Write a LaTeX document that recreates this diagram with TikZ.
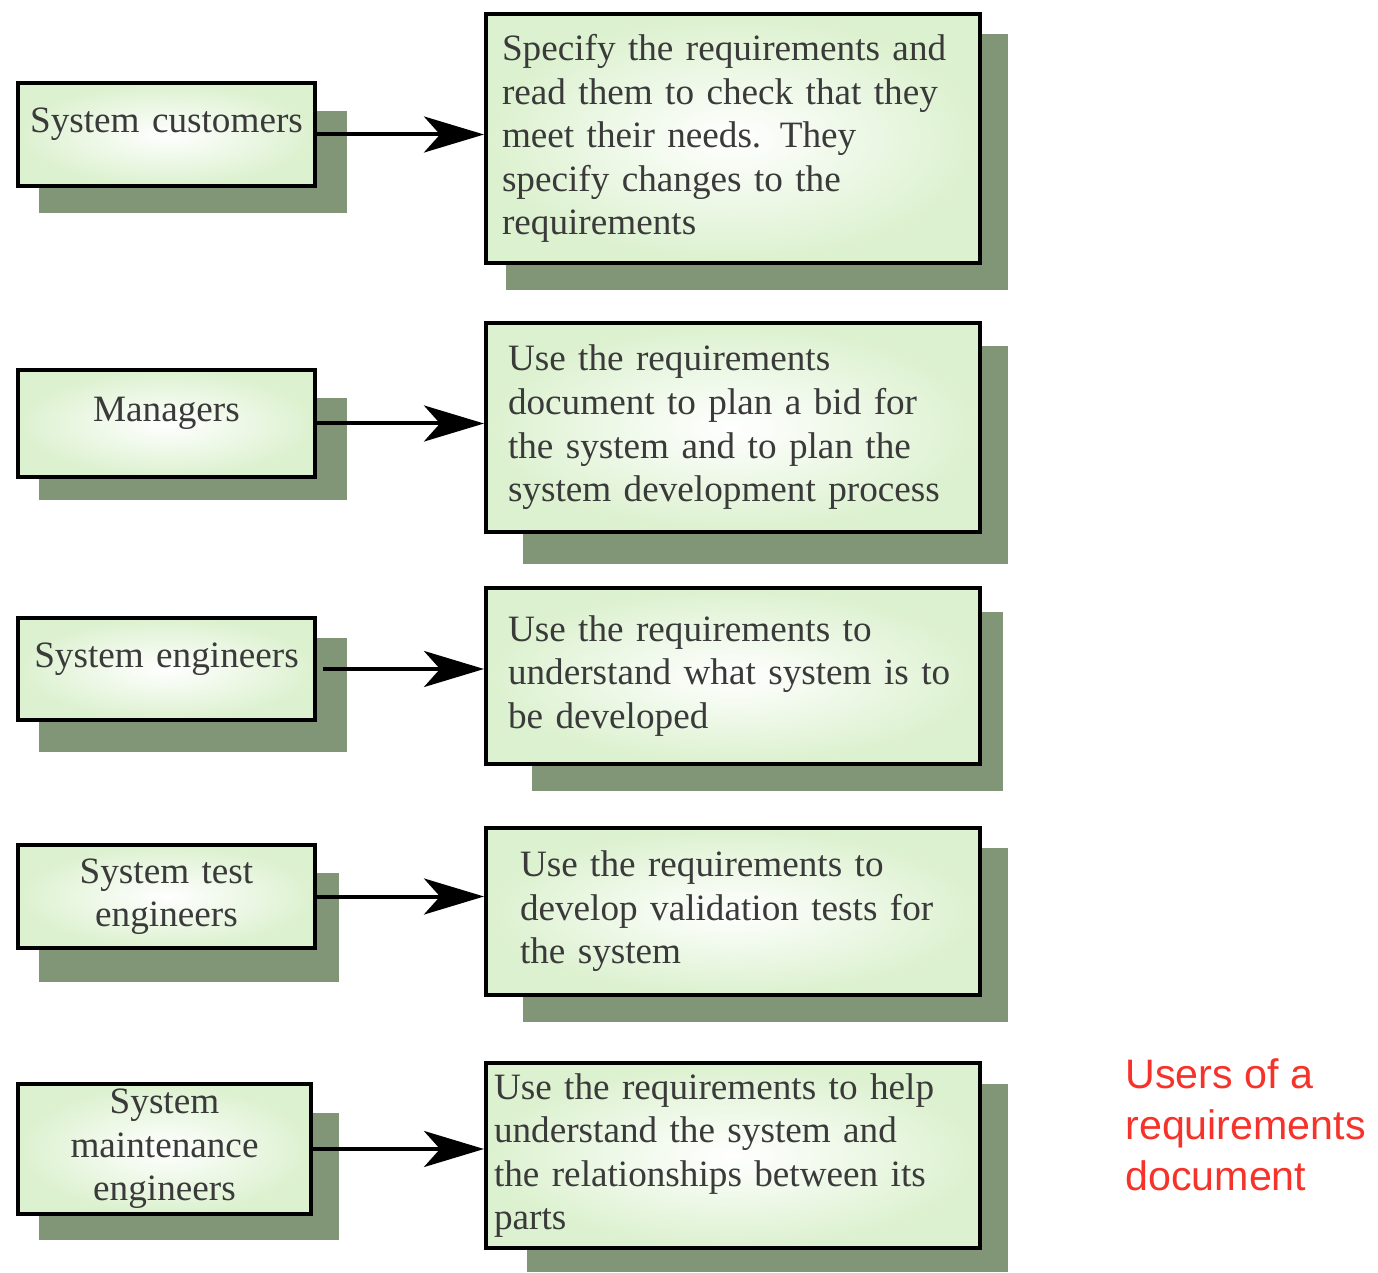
\documentclass[tikz,border=0pt]{standalone}
\usepackage{fontspec}
\setmainfont{Liberation Serif}
\newfontfamily\notefont{Liberation Sans}
\usetikzlibrary{arrows.meta}

\definecolor{boxgreen}{RGB}{220,241,207}
\definecolor{shadowgreen}{RGB}{129,150,118}
\definecolor{notered}{RGB}{245,51,42}
\definecolor{textgray}{RGB}{58,58,58}

\tikzset{
  usertext/.style={font=\fontsize{18.6}{21.8}\selectfont, text=textgray},
  userbox/.style={draw=black, line width=2pt, shading=radial, inner color=white,
    outer color=boxgreen, anchor=north west, usertext, align=center,
    inner sep=0pt, minimum width=148.5pt, text width=148.5pt},
  onelinebox/.style={userbox, text depth=14pt},
  taskbox/.style={userbox, align=left, minimum width=247pt},
  shadowbox/.style={fill=shadowgreen},
  usesarrow/.style={line width=2pt, -{Stealth[length=30pt,width=18pt,inset=8pt]}},
  notetext/.style={font=\notefont\fontsize{20.6}{25.5}\selectfont, text=notered,
    align=left, anchor=north west, inner sep=0pt},
}

\begin{document}
\begin{tikzpicture}[x=0.5pt,y=-0.5pt]
\useasboundingbox (0,0) rectangle (1378,1273);

% shadows
\fill[shadowbox] (39,111) rectangle (347,213);
\fill[shadowbox] (39,398) rectangle (347,500);
\fill[shadowbox] (39,638) rectangle (347,752);
\fill[shadowbox] (39,873) rectangle (339,982);
\fill[shadowbox] (39,1113) rectangle (339,1240);
\fill[shadowbox] (506,34) rectangle (1008,290);
\fill[shadowbox] (523,346) rectangle (1008,564);
\fill[shadowbox] (532,612) rectangle (1003,791);
\fill[shadowbox] (523,848) rectangle (1008,1022);
\fill[shadowbox] (527,1084) rectangle (1008,1272);

% users
\node[onelinebox, minimum height=51.5pt] (customers) at (16,81) {System customers};
\node[onelinebox, minimum height=53.5pt] (managers) at (16,368) {Managers};
\node[onelinebox, minimum height=51pt] (engineers) at (16,616) {System engineers};
\node[userbox, minimum height=51.5pt] (testers) at (16,843) {System test\\engineers};
\node[userbox, minimum height=65pt, minimum width=146.5pt, text width=146.5pt]
  (maintainers) at (16,1082) {System\\maintenance\\engineers};

% uses
\node[taskbox, minimum height=124.5pt, inner xsep=8pt, text width=231pt] (specify) at (484,12)
  {Specify the requirements and\\read them to check that they\\meet their needs. They\\specify changes to the\\requirements};
\node[taskbox, minimum height=104.5pt, inner xsep=11pt, text width=225pt] (plan) at (484,321)
  {Use the requirements\\document to plan a bid for\\the system and to plan the\\system development process};
\node[taskbox, minimum height=88pt, inner xsep=11pt, text width=225pt] (understand) at (484,586)
  {Use the requirements to\\understand what system is to\\be developed};
\node[taskbox, minimum height=83.5pt, inner xsep=17pt, text width=213pt] (validate) at (484,826)
  {Use the requirements to\\develop validation tests for\\the system};
\node[taskbox, minimum height=92.5pt, inner xsep=4pt, text width=239pt] (maintain) at (484,1061)
  {Use the requirements to help\\understand the system and\\the relationships between its\\parts};

% connectors
\draw[usesarrow] (customers.east) -- (customers.east -| specify.west);
\draw[usesarrow] (managers.east) -- (managers.east -| plan.west);
\draw[usesarrow, shorten <=3pt] (engineers.east) -- (engineers.east -| understand.west);
\draw[usesarrow] (testers.east) -- (testers.east -| validate.west);
\draw[usesarrow] (maintainers.east) -- (maintainers.east -| maintain.west);

\node[notetext] (caption) at (1125,1058) {Users of a\\requirements\\document};
\end{tikzpicture}
\end{document}
